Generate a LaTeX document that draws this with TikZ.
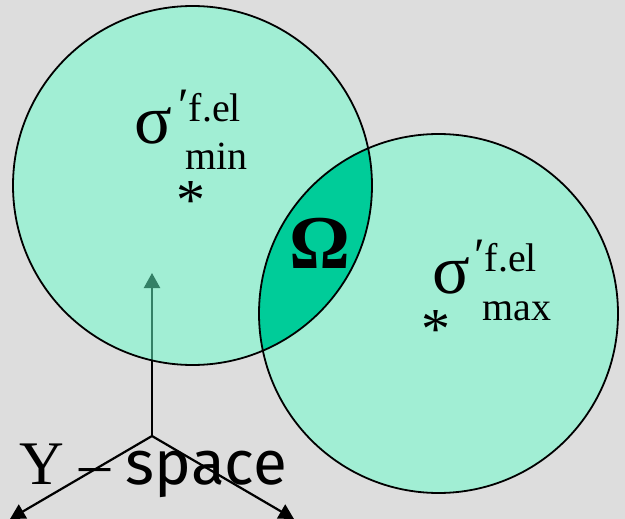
\documentclass[tikz,border=0pt]{standalone}
\usepackage{fontspec}
\setmainfont{Liberation Serif}
\newfontfamily\spacefont{Fira Sans}
\usetikzlibrary{arrows.meta}
\definecolor{bgc}{HTML}{DDDDDD}
\definecolor{setc}{HTML}{66FFCC}
\definecolor{lensc}{HTML}{00CC99}
\begin{document}
\begin{tikzpicture}[x=1pt,y=-1pt,
  axis/.style={line width=2.2pt, -{Triangle[width=16pt,length=15pt]}},
  setfill/.style={fill=setc, fill opacity=0.5},
  outline/.style={draw=black, line width=1.8pt},
  lbl/.style={inner sep=0pt, anchor=base west, font=\fontsize{40}{40}\selectfont},
  sig/.style={inner sep=0pt, anchor=base west, font=\fontsize{70}{70}\selectfont},
  ast/.style={inner sep=0pt, anchor=base, font=\fontsize{58}{58}\selectfont}]
\fill[bgc] (0,0) rectangle (625,519);
\useasboundingbox (0,0) rectangle (625,519);
% axes
\coordinate (o) at (152,436);
\coordinate (up) at (152,273);
\coordinate (l) at (10,519);
\coordinate (r) at (294,519);
\draw[axis] (o) -- (up);
\draw[axis] (o) -- (l);
\draw[axis] (o) -- (r);
% sets
\coordinate (c1) at (192.5,185.5);
\coordinate (c2) at (438.5,313.5);
\fill[setfill] (c1) circle[radius=179.5pt];
\fill[setfill] (c2) circle[radius=179.5pt];
\begin{scope}
  \clip (c1) circle[radius=179.5pt];
  \fill[lensc] (c2) circle[radius=179.5pt];
\end{scope}
\draw[outline] (c1) circle[radius=179.5pt];
\draw[outline] (c2) circle[radius=179.5pt];
% labels left
\node[sig] (sigmin) at (134,143) {σ};
\node[lbl] (supmin) at (178,122) {{\fontsize{48}{48}\selectfont ′}f.el};
\node[lbl] (submin) at (185,169) {min};
\node[ast] (astmin) at (191,219) {*};
% labels right
\node[sig] (sigmax) at (432,293) {σ};
\node[lbl] (supmax) at (474,271) {{\fontsize{48}{48}\selectfont ′}f.el};
\node[lbl] (submax) at (482,320) {max};
\node[ast] (astmax) at (436,348) {*};
% omega
\node[inner sep=0pt, anchor=base, font=\fontsize{76}{76}\selectfont\bfseries] (omega) at (320,269) {Ω};
% Y-space
\node[inner sep=0pt, anchor=base west, font=\fontsize{62}{62}\selectfont] (yspace) at (19,484) {Y – {\spacefont\fontsize{62}{62}\selectfont space}};
\end{tikzpicture}
\end{document}
